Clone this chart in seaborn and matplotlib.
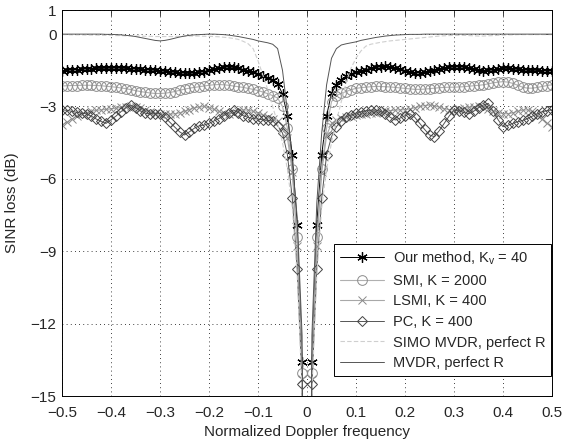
import numpy as np
import pandas as pd
import matplotlib
matplotlib.use("Agg")
import matplotlib.pyplot as plt
import seaborn as sns

# ---------------------------------------------------------------------------
# Data (normalized Doppler grid in steps of 0.01)
# ---------------------------------------------------------------------------
DOPPLER = np.round(np.arange(-50, 51) * 0.01, 2)

OUR_METHOD = [
    -1.52, -1.50, -1.48, -1.47, -1.45, -1.44, -1.43, -1.42, -1.42, -1.41,
    -1.41, -1.40, -1.41, -1.42, -1.43, -1.44, -1.45, -1.47, -1.48, -1.50,
    -1.52, -1.54, -1.56, -1.58, -1.60, -1.61, -1.62, -1.61, -1.58, -1.55,
    -1.50, -1.45, -1.40, -1.37, -1.36, -1.38, -1.42, -1.47, -1.52, -1.58,
    -1.66, -1.72, -1.80, -1.90, -2.05, -2.48, -3.38, -5.00, -7.90, -13.60,
    -35.0,
    -13.60, -7.90, -5.00, -3.38, -2.45, -2.10, -1.90, -1.75, -1.65, -1.58,
    -1.52, -1.47, -1.42, -1.38, -1.35, -1.34, -1.36, -1.40, -1.46, -1.52,
    -1.56, -1.60, -1.60, -1.57, -1.53, -1.49, -1.45, -1.41, -1.38, -1.36,
    -1.35, -1.37, -1.40, -1.44, -1.48, -1.51, -1.50, -1.48, -1.45, -1.42,
    -1.42, -1.44, -1.46, -1.48, -1.49, -1.50, -1.50, -1.51, -1.52, -1.52,
]

SMI = [
    -2.15, -2.14, -2.13, -2.13, -2.12, -2.12, -2.12, -2.13, -2.14, -2.16,
    -2.18, -2.20, -2.23, -2.26, -2.30, -2.34, -2.38, -2.41, -2.44, -2.46,
    -2.46, -2.45, -2.42, -2.38, -2.33, -2.28, -2.24, -2.21, -2.18, -2.15,
    -2.12, -2.10, -2.09, -2.10, -2.12, -2.15, -2.18, -2.21, -2.25, -2.29,
    -2.34, -2.40, -2.47, -2.55, -2.65, -3.00, -3.90, -5.60, -8.40, -14.05,
    -35.0,
    -14.05, -8.40, -5.60, -3.90, -2.80, -2.55, -2.45, -2.38, -2.30, -2.25,
    -2.22, -2.20, -2.18, -2.17, -2.17, -2.18, -2.19, -2.21, -2.23, -2.25,
    -2.27, -2.29, -2.29, -2.28, -2.26, -2.24, -2.22, -2.21, -2.20, -2.20,
    -2.19, -2.18, -2.16, -2.14, -2.12, -2.10, -2.06, -2.02, -1.99, -1.97,
    -1.99, -2.04, -2.12, -2.20, -2.24, -2.24, -2.21, -2.17, -2.13, -2.10,
]

LSMI = [
    -3.77, -3.65, -3.52, -3.40, -3.30, -3.25, -3.20, -3.16, -3.14, -3.12,
    -3.10, -3.07, -3.04, -3.01, -3.00, -3.02, -3.08, -3.15, -3.22, -3.28,
    -3.31, -3.32, -3.32, -3.30, -3.26, -3.20, -3.13, -3.06, -3.02, -3.00,
    -3.05, -3.12, -3.20, -3.28, -3.30, -3.25, -3.18, -3.14, -3.15, -3.20,
    -3.28, -3.35, -3.42, -3.50, -3.60, -3.80, -4.30, -5.70, -8.80, -14.30,
    -35.0,
    -14.30, -8.80, -5.70, -4.20, -3.70, -3.56, -3.48, -3.42, -3.38, -3.35,
    -3.32, -3.30, -3.28, -3.25, -3.22, -3.19, -3.17, -3.15, -3.14, -3.13,
    -3.10, -3.05, -3.00, -2.96, -2.94, -2.97, -3.03, -3.09, -3.13, -3.14,
    -3.12, -3.08, -3.04, -3.01, -3.00, -3.03, -3.10, -3.18, -3.25, -3.30,
    -3.30, -3.26, -3.20, -3.15, -3.14, -3.20, -3.35, -3.52, -3.70, -3.84,
]

PC = [
    -3.14, -3.16, -3.20, -3.24, -3.28, -3.30, -3.40, -3.52, -3.62, -3.70,
    -3.55, -3.40, -3.22, -3.05, -2.94, -3.05, -3.18, -3.28, -3.30, -3.30,
    -3.30, -3.45, -3.65, -3.85, -4.05, -4.18, -4.05, -3.90, -3.80, -3.77,
    -3.70, -3.60, -3.50, -3.38, -3.25, -3.14, -3.25, -3.38, -3.45, -3.50,
    -3.52, -3.55, -3.58, -3.60, -3.80, -4.10, -5.00, -6.80, -9.75, -14.50,
    -35.0,
    -14.50, -9.75, -6.80, -5.00, -4.25, -3.84, -3.60, -3.42, -3.35, -3.28,
    -3.22, -3.18, -3.15, -3.14, -3.20, -3.30, -3.45, -3.56, -3.48, -3.38,
    -3.30, -3.45, -3.70, -3.95, -4.18, -4.25, -4.00, -3.70, -3.40, -3.14,
    -3.18, -3.24, -3.30, -3.20, -3.05, -2.94, -2.87, -3.20, -3.55, -3.84,
    -3.78, -3.70, -3.63, -3.58, -3.50, -3.40, -3.30, -3.22, -3.17, -3.14,
]

SIMO_MVDR = [
    -0.02, -0.02, -0.03, -0.03, -0.03, -0.04, -0.04, -0.04, -0.05, -0.05,
    -0.05, -0.06, -0.06, -0.07, -0.07, -0.08, -0.08, -0.09, -0.09, -0.10,
    -0.10, -0.10, -0.10, -0.10, -0.09, -0.09, -0.08, -0.08, -0.08, -0.09,
    -0.09, -0.10, -0.11, -0.13, -0.15, -0.18, -0.22, -0.30, -0.40, -0.60,
    -1.10, -1.70, -2.30, -3.00, -3.70, -4.50, -5.60, -7.20, -10.00, -14.80,
    -35.0,
    -14.80, -10.00, -7.20, -5.60, -4.50, -3.60, -2.80, -2.00, -1.40, -1.00,
    -0.70, -0.50, -0.42, -0.38, -0.34, -0.31, -0.28, -0.26, -0.24, -0.22,
    -0.20, -0.18, -0.16, -0.14, -0.12, -0.10, -0.08, -0.07, -0.06, -0.05,
    -0.05, -0.05, -0.06, -0.07, -0.08, -0.08, -0.07, -0.06, -0.05, -0.04,
    -0.03, -0.03, -0.02, -0.02, -0.02, -0.02, -0.02, -0.02, -0.02, -0.02,
]

MVDR = [
    0.00, 0.00, 0.00, 0.00, 0.00, 0.00, 0.00, 0.00, 0.00, -0.01,
    -0.01, -0.02, -0.03, -0.05, -0.07, -0.10, -0.14, -0.18, -0.22, -0.26,
    -0.28, -0.26, -0.22, -0.17, -0.12, -0.08, -0.05, -0.03, -0.02, -0.01,
    0.00, 0.00, -0.01, -0.02, -0.04, -0.07, -0.10, -0.14, -0.18, -0.22,
    -0.28, -0.32, -0.36, -0.42, -0.60, -1.50, -3.20, -5.30, -7.60, -12.50,
    -40.0,
    -12.50, -7.00, -4.10, -2.10, -1.00, -0.60, -0.45, -0.40, -0.36, -0.32,
    -0.26, -0.22, -0.18, -0.14, -0.11, -0.08, -0.06, -0.04, -0.03, -0.02,
    -0.01, -0.01, -0.01, 0.00, 0.00, 0.00, 0.00, 0.00, 0.00, 0.00,
    0.00, 0.00, 0.00, 0.00, 0.00, 0.00, 0.00, 0.00, 0.00, 0.00,
    0.00, 0.00, 0.00, 0.00, 0.00, 0.00, 0.00, 0.00, 0.00, 0.00,
]

LABELS = [
    r"Our method, K$_\mathregular{v}$ = 40",
    "SMI, K = 2000",
    "LSMI, K = 400",
    "PC, K = 400",
    "SIMO MVDR, perfect R",
    "MVDR, perfect R",
]

X_TICKS = [-0.5, -0.4, -0.3, -0.2, -0.1, 0, 0.1, 0.2, 0.3, 0.4, 0.5]
X_TICK_LABELS = ["\u22120.5", "\u22120.4", "\u22120.3", "\u22120.2", "\u22120.1",
                 "0", "0.1", "0.2", "0.3", "0.4", "0.5"]
Y_TICKS = [-15, -12, -9, -6, -3, 0, 1]
Y_TICK_LABELS = ["\u221215", "\u221212", "\u22129", "\u22126", "\u22123", "0", "1"]

# ---------------------------------------------------------------------------
# Styles per series
# ---------------------------------------------------------------------------
STYLES = [
    dict(color="black", marker=(6, 2, 0), markersize=7.5, mec="black",
         mfc="none", linewidth=0.7, linestyle="-", mew=0.9),
    dict(color="#b0b0b0", marker="o", markersize=7, mec="#8c8c8c",
         mfc="none", linewidth=0.8, linestyle="-", mew=0.7),
    dict(color="#a8a8a8", marker="x", markersize=5.5, mec="#8a8a8a",
         mfc="none", linewidth=0.8, linestyle="-", mew=0.7),
    dict(color="#555555", marker="D", markersize=5.5, mec="#444444",
         mfc="none", linewidth=0.7, linestyle="-", mew=0.7),
    dict(color="#cfcfcf", marker=None, linewidth=0.8, linestyle=(0, (4, 2))),
    dict(color="#555555", marker=None, linewidth=0.7, linestyle="-"),
]


def main():
    sns.set_style("white")
    plt.rcParams["font.family"] = ["Liberation Sans", "DejaVu Sans"]

    fig = plt.figure(figsize=(5.62, 4.4), dpi=100)
    ax = fig.add_axes([62 / 562, 44 / 440, 490 / 562, 386 / 440])

    series = [OUR_METHOD, SMI, LSMI, PC, SIMO_MVDR, MVDR]
    for values, label, style in zip(series, LABELS, STYLES):
        df = pd.DataFrame({"doppler": DOPPLER, "loss": values})
        sns.lineplot(data=df, x="doppler", y="loss", ax=ax, label=label,
                     sort=False, **style)

    ax.set_xlim(-0.5, 0.5)
    ax.set_ylim(-15, 1)
    ax.set_xticks(X_TICKS)
    ax.set_xticklabels(X_TICK_LABELS)
    ax.set_yticks(Y_TICKS)
    ax.set_yticklabels(Y_TICK_LABELS)
    ax.tick_params(direction="in", top=True, right=True, length=4,
                   labelsize=11, width=0.6)
    ax.tick_params(axis="x", pad=7)
    ax.tick_params(axis="y", pad=4)
    ax.grid(True, linestyle=(0, (1, 4)), color="black", linewidth=0.6)
    for spine in ax.spines.values():
        spine.set_color("black")
        spine.set_linewidth(0.7)

    ax.set_xlabel("Normalized Doppler frequency", fontsize=11, labelpad=4)
    ax.set_ylabel("SINR loss (dB)", fontsize=11, labelpad=8)

    leg = ax.legend(loc="lower right", bbox_to_anchor=(0.998, 0.052),
                    fontsize=10.5, fancybox=False, framealpha=1,
                    edgecolor="black", handlelength=3.0, borderpad=0.4,
                    labelspacing=0.45, handletextpad=0.6, borderaxespad=0)
    leg.get_frame().set_linewidth(0.7)

    fig.savefig("out.png", dpi=100)
    plt.close(fig)


if __name__ == "__main__":
    main()
